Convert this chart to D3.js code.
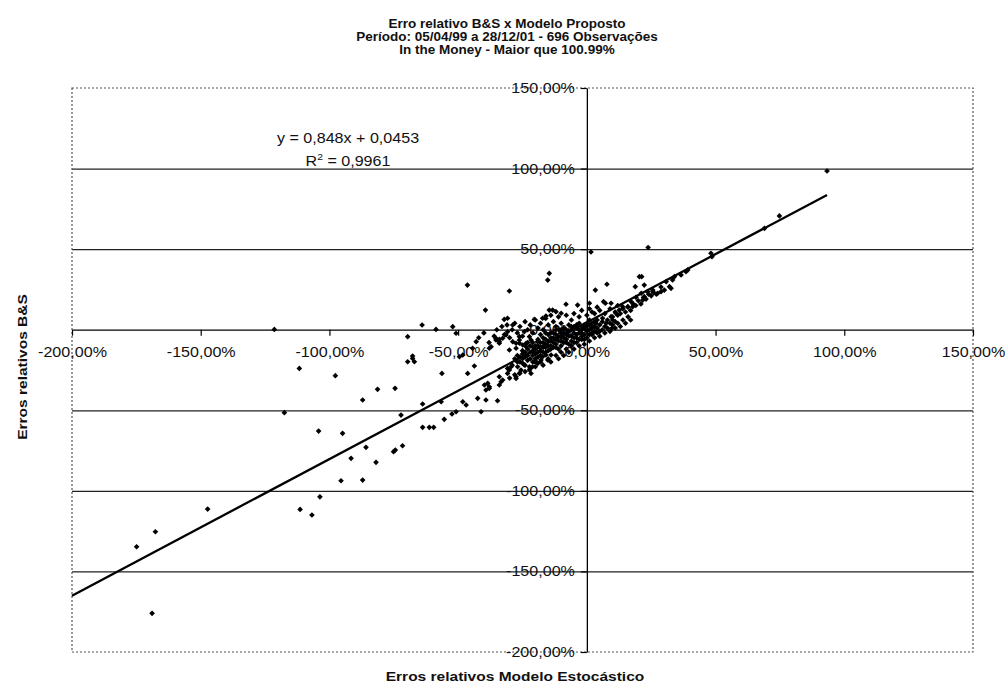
<!DOCTYPE html>
<html>
<head>
<meta charset="utf-8">
<script src="https://cdn.jsdelivr.net/npm/d3@7"></script>
<style>
  body { margin: 0; background: #fff; }
  svg text { font-family: "Liberation Sans", Arial, sans-serif; fill: #111; }
</style>
</head>
<body>
<div id="chart"></div>
<script>
// Texts
const titleLines = [
  "Erro relativo B&S x Modelo Proposto",
  "Período: 05/04/99 a 28/12/01  - 696 Observações",
  "In the Money - Maior  que 100.99%"
];
const xAxisTitle = "Erros relativos Modelo Estocástico";
const yAxisTitle = "Erros relativos B&S";
const equationText = "y = 0,848x + 0,0453";
const r2Value = "0,9961";

// Axis ticks (percent)
const xTicks = [-200, -150, -100, -50, 0, 50, 100, 150];
const yTicks = [150, 100, 50, 0, -50, -100, -150, -200];
const gridValues = [100, 50, -50, -100, -150];

// Linear trend, in percent units
const trendSlope = 0.848;
const trendIntercept = 4.53;

// Points: [Modelo Estocástico %, B&S %]
const farPoints = [
  [-46.4, 27.7], [-30.1, 24.0], [-39.4, 12.2], [-32.1, 6.4], [-30.8, 7.1], [-20.4, 6.4],
  [-64.0, 2.9], [-121.4, 0.2], [-58.6, 0.2], [-52.1, 1.9], [-50.8, -2.2], [-69.6, -4.3],
  [-28.8, 2.9], [-43.0, -7.4], [-37.2, -10.5], [-34.0, -7.4], [-67.7, -16.3],
  [-69.6, -19.9], [-67.7, -17.8], [-67.0, -19.9], [-111.7, -24.0], [-97.7, -28.5],
  [-56.3, -27.1], [-46.3, -27.1], [-43.7, -22.5], [-81.3, -37.0], [-74.5, -36.4],
  [-87.1, -43.6], [-63.8, -46.1], [-56.6, -44.7], [-117.5, -51.5], [-72.2, -53.0],
  [-63.8, -60.6], [-61.2, -60.6], [-59.5, -60.6], [-55.4, -55.6], [-52.4, -52.3],
  [-50.8, -50.9], [-41.1, -50.9], [-48.2, -44.7], [-46.9, -46.7], [-42.4, -42.6],
  [-39.2, -43.6], [-34.7, -44.1], [-104.2, -62.9], [-94.9, -64.3], [-85.8, -73.0],
  [-91.6, -79.8], [-81.9, -82.3], [-75.1, -75.7], [-74.4, -74.7], [-71.6, -72.0],
  [-95.5, -93.7], [-87.1, -93.3], [-103.7, -103.7], [-111.4, -111.5], [-106.8, -115.0],
  [-147.3, -111.3], [-167.6, -125.4], [-174.9, -134.7], [-168.9, -176.0]
];

const midPoints = [
  [-39.2, -37.4], [-37.9, -35.4], [-38.5, -33.3], [-39.8, -34.3], [-34.0, -34.3],
  [-33.3, -32.3], [-32.7, -31.2], [-34.0, -29.2], [-30.8, -27.1], [-30.1, -25.0],
  [-29.4, -23.0], [-30.8, -24.0], [-27.5, -30.2], [-26.2, -27.1], [-25.6, -25.0],
  [-26.9, -23.0], [-24.9, -20.9], [-24.3, -21.9], [-22.3, -25.0], [-21.7, -27.1],
  [-21.1, -23.0], [-19.1, -20.9], [-20.4, -19.9], [-17.8, -18.8], [-17.2, -16.8],
  [-15.9, -15.7], [-35.3, -6.4], [-34.0, -8.4], [-31.4, -3.3], [-28.8, -7.4],
  [-26.2, -8.4], [-27.5, -11.5], [-24.9, -9.5], [-44.4, -11.5], [-49.5, -16.8],
  [-48.2, -15.7], [-35.3, -5.3], [-30.8, -1.2], [-15.2, 30.8], [-14.6, 35.0],
  [-14.6, 12.2], [-17.2, 7.1], [-15.9, 8.5], [-24.3, -1.2], [-22.3, -4.3], [-26.2, -6.4],
  [-23.6, -8.4], [-21.1, -10.6], [-19.2, -7.4], [-37.9, -11.5], [-32.7, -5.3],
  [-30.1, -12.6], [-27.5, -8.4], [-26.2, -4.3], [-23.6, -10.6], [-21.7, -6.4],
  [-20.4, -14.6], [-37.9, -36.4], [-27.5, -29.2], [-22.3, -23.0], [-19.7, -19.9],
  [-15.2, -18.8], [-13.9, -15.7]
];

const corePoints = [
  [-28, -18], [-27, -16], [-26, -20], [-25, -15], [-25, -13], [-24, -17], [-23, -12],
  [-23, -19], [-22, -14], [-22, -10], [-21, -16], [-21, -8], [-20, -12], [-20, -15],
  [-19, -10], [-19, -6], [-18, -13], [-18, -8], [-17, -11], [-17, -5], [-16, -9],
  [-16, -14], [-15, -7], [-15, -3], [-14, -10], [-14, -5], [-13, -8], [-13, -2],
  [-12, -6], [-12, -11], [-11, -4], [-11, 0], [-10, -7], [-10, -2], [-9, -5], [-9, 1],
  [-8, -3], [-8, -8], [-7, -1], [-7, 3], [-6, -4], [-6, 0], [-5, -2], [-5, 2], [-4, -5],
  [-4, 1], [-3, 0], [-3, 4], [-2, -2], [-2, 2], [-1, 1], [-1, -3], [0, 2], [0, -1],
  [1, 3], [1, 0], [2, 4], [2, -2], [3, 2], [3, 5], [4, 1], [4, 6], [5, 3], [5, -1],
  [6, 5], [7, 2], [8, 6], [9, 4], [10, 8], [11, 5], [12, 9],
  [-30, -30], [-28, -28], [-26, -27], [-24, -26], [-22, -24], [-20, -23], [-18, -20],
  [-17, -22], [-15, -18], [-14, -20], [-12, -16], [-11, -18], [-10, -14], [-9, -16],
  [-8, -12], [-7, -14], [-6, -10], [-5, -12], [-4, -8], [-3, -10], [-2, -6], [-1, -9],
  [0, -5], [1, -7], [2, -3], [3, -5], [4, -2], [5, -4], [6, 0], [7, -2], [8, 1], [9, -1],
  [10, 3], [11, 1], [12, 4], [13, 2], [14, 6], [15, 4], [16, 8], [17, 6],
  [-42, -5], [-40, -2], [-38, -8], [-36, -4], [-35, 0], [-34, -6], [-33, 2], [-32, -3],
  [-31, 3], [-30, -5], [-29, 0], [-28, 4], [-27, -2], [-26, 2], [-25, -4], [-24, 5],
  [-23, 0], [-22, 3], [-21, -2], [-20, 6], [-19, 1], [-18, 4], [-17, 0], [-16, 7],
  [-15, 3], [-14, 9], [-13, 5], [-12, 2], [-11, 8], [-10, 4], [-8, 9], [-6, 6], [-5, 10],
  [-3, 8], [-2, 12], [0, 9], [2, 11], [1, 13], [3, 10], [5, 12], [7, 10], [9, 13],
  [11, 11], [12, 15], [4, 14]
];

// the darkest part of the cloud, where markers overlap
const densePoints = [
  [-26, -17], [-24, -14], [-23, -16], [-22, -18], [-21, -13], [-20, -10], [-19, -14],
  [-19, -17], [-18, -11], [-18, -16], [-17, -8], [-17, -14], [-16, -11], [-16, -6],
  [-15, -10], [-15, -13], [-14, -7], [-14, -12], [-13, -11], [-13, -5], [-12, -9],
  [-12, -3], [-11, -7], [-11, -12], [-10, -5], [-10, -10], [-9, -8], [-9, -2], [-8, -6],
  [-8, 0], [-7, -4], [-7, -9], [-6, -7], [-6, 2], [-5, -5], [-5, -8], [-4, -3], [-4, 3],
  [-3, -6], [-3, -2], [-2, 0], [-2, -4], [-1, 3], [-1, -6], [0, 0], [0, 4], [1, -3],
  [1, 6], [2, 1], [3, -1], [-29, -22], [-27, -20], [-25, -18], [-24, -22], [-23, -8],
  [-21, -20], [-20, -18], [-18, -3], [-16, -2], [-14, -2], [-12, 0], [-10, 0]
];

const rightPoints = [
  [1.6, 48.2], [23.8, 51.0], [3.3, 24.6], [7.8, 28.2], [6.5, 17.4], [7.2, 16.4],
  [9.4, 16.4], [1.0, 16.4], [-8.1, 15.8], [-3.6, 15.3], [20.4, 32.9], [21.3, 32.9],
  [18.8, 26.7], [22.3, 27.7], [-13.3, 12.2], [-12.0, 11.2], [-10.0, 10.2], [9.7, 0.9],
  [27.5, 22.6], [28.8, 23.6], [25.6, 24.6], [30.1, 24.6], [93.3, 98.5], [74.8, 70.6],
  [69.0, 62.9], [48.6, 45.3], [48.2, 47.4], [39.2, 37.1], [36.6, 34.0], [33.3, 30.9],
  [32.1, 26.7], [28.8, 26.5], [25.6, 23.6], [32.7, 25.7], [30.8, 29.8], [34.0, 32.9],
  [38.5, 36.0], [21.1, 22.6], [22.3, 20.5], [23.6, 23.6], [21.7, 18.4], [19.1, 20.1],
  [17.2, 17.4], [17.8, 14.3], [15.9, 14.3], [12.6, 12.2], [13.9, 14.3], [11.3, 10.2],
  [10.0, 6.0], [9.4, 8.1], [7.5, 4.0], [6.1, 7.1], [3.6, 4.0], [2.3, 1.9],
  [13, 10], [14, 13], [15, 11], [16, 14], [17, 12], [18, 16], [19, 15], [20, 18],
  [21, 16], [22, 20], [23, 19], [24, 22], [25, 21], [26, 23], [27, 22]
];

const allPoints = farPoints.concat(midPoints, corePoints, densePoints, rightPoints);

// Layout
const W = 1005, H = 686;
const margin = { top: 88, right: 32, bottom: 34, left: 72 };
const plotW = W - margin.left - margin.right;
const plotH = H - margin.top - margin.bottom;
const stretch = 1.15; // glyphs in the picture are wider than normal

const svg = d3.select("#chart").append("svg")
  .attr("width", W).attr("height", H);

const x = d3.scaleLinear().domain([-200, 150]).range([margin.left, margin.left + plotW]);
const y = d3.scaleLinear().domain([-200, 150]).range([margin.top + plotH, margin.top]);

const pct = (d) => (d < 0 ? "-" : "") + Math.abs(d).toFixed(2).replace(".", ",") + "%";

// Title
const title = svg.append("g").attr("transform", `translate(507,0)`);
titleLines.forEach((line, i) => {
  title.append("text")
    .attr("x", 0)
    .attr("y", 28 + i * 13)
    .attr("text-anchor", "middle")
    .style("font-size", "13.5px")
    .style("font-weight", "bold")
    .text(line);
});

// Horizontal gridlines
svg.append("g")
  .attr("transform", `translate(${margin.left},0)`)
  .call(d3.axisLeft(y).tickValues(gridValues).tickSize(-plotW).tickFormat(""))
  .call((g) => g.select(".domain").remove())
  .selectAll("line")
  .attr("stroke", "#222")
  .attr("stroke-width", 1.3);

// Plot area border (dotted like the print)
svg.append("rect")
  .attr("x", margin.left).attr("y", margin.top)
  .attr("width", plotW).attr("height", plotH)
  .attr("fill", "none")
  .attr("stroke", "#555")
  .attr("stroke-width", 1.2)
  .attr("stroke-dasharray", "2,2");

// Axes crossing at zero
const xAxis = svg.append("g")
  .attr("transform", `translate(0,${y(0)})`)
  .call(d3.axisBottom(x).tickValues(xTicks).tickSize(6).tickPadding(11).tickSizeOuter(0).tickFormat(pct));

const yAxis = svg.append("g")
  .attr("transform", `translate(${x(0)},0)`)
  .call(d3.axisLeft(y).tickValues(yTicks).tickSize(6).tickPadding(4.4).tickSizeOuter(0).tickFormat(pct));

[xAxis, yAxis].forEach((g) => {
  g.select(".domain").attr("stroke", "#000").attr("stroke-width", 1.3);
  g.selectAll(".tick line").attr("stroke", "#000").attr("stroke-width", 1.2);
  g.selectAll("text")
    .style("font-size", "14px")
    .style("font-family", "'Liberation Sans', Arial, sans-serif")
    .attr("fill", "#111")
    .attr("transform", `scale(${stretch},1)`);
});

// Scatter points (small diamonds)
const diamond = d3.symbol().type(d3.symbolSquare).size(16);
svg.append("g")
  .selectAll("path")
  .data(allPoints)
  .enter()
  .append("path")
  .attr("d", diamond)
  .attr("transform", (d) => `translate(${x(d[0])},${y(d[1])}) rotate(45)`)
  .attr("fill", "#000");

// Linear trendline over the data range
const xMin = x.domain()[0];
const xMax = d3.max(allPoints, (d) => d[0]);
const trend = [xMin, xMax].map((v) => [v, trendSlope * v + trendIntercept]);
svg.append("path")
  .datum(trend)
  .attr("d", d3.line().x((d) => x(d[0])).y((d) => y(d[1])))
  .attr("fill", "none")
  .attr("stroke", "#000")
  .attr("stroke-width", 2.3);

// Trendline equation
const eq = svg.append("g").attr("transform", "translate(348,143)");
eq.append("text")
  .attr("text-anchor", "middle")
  .attr("transform", `scale(${stretch},1)`)
  .style("font-size", "14px")
  .text(equationText);

const r2 = svg.append("g").attr("transform", "translate(348,166)");
const r2Text = r2.append("text")
  .attr("text-anchor", "middle")
  .attr("transform", `scale(${stretch},1)`)
  .style("font-size", "14px");
r2Text.append("tspan").text("R");
r2Text.append("tspan").attr("dy", -6).style("font-size", "9px").text("2");
r2Text.append("tspan").attr("dy", 6).text(" = " + r2Value);

// Axis titles
svg.append("g")
  .attr("transform", "translate(515,681)")
  .append("text")
  .attr("text-anchor", "middle")
  .attr("transform", `scale(${stretch},1)`)
  .style("font-size", "13.5px")
  .style("font-weight", "bold")
  .text(xAxisTitle);

svg.append("g")
  .attr("transform", "translate(27,367) rotate(-90)")
  .append("text")
  .attr("text-anchor", "middle")
  .attr("transform", `scale(${stretch},1)`)
  .style("font-size", "13.5px")
  .style("font-weight", "bold")
  .text(yAxisTitle);
</script>
</body>
</html>
